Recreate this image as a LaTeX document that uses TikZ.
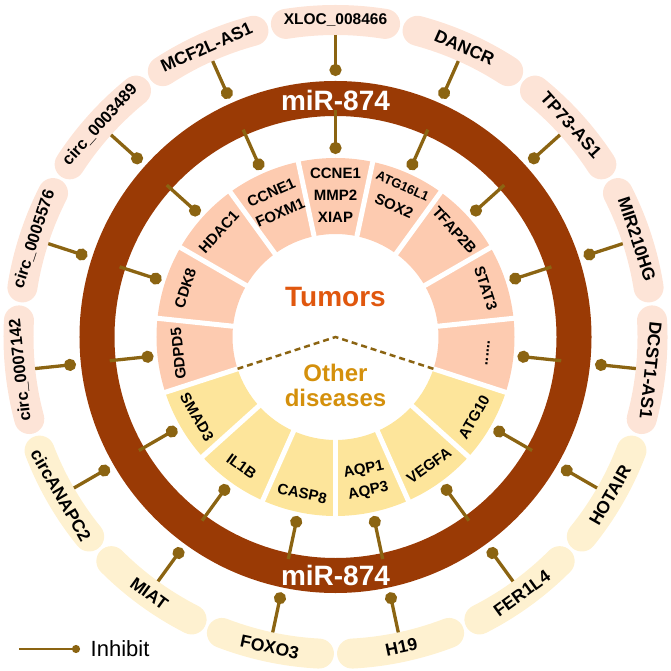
\documentclass[tikz,border=0pt]{standalone}
\usepackage{fontspec}
\setmainfont{Liberation Sans}
\usetikzlibrary{arrows.meta}
\definecolor{ringc}{RGB}{154,58,5}
\definecolor{pinc}{RGB}{139,100,18}
\definecolor{segT}{RGB}{253,203,176}
\definecolor{segO}{RGB}{253,229,155}
\definecolor{pillT}{RGB}{253,228,215}
\definecolor{pillO}{RGB}{254,241,208}
\definecolor{tumc}{RGB}{224,87,14}
\definecolor{othc}{RGB}{212,144,12}
\tikzset{
  inhib/.style={draw=pinc, line width=3.3pt, -{Circle[length=12pt,width=12pt]}},
  seglab/.style={font=\bfseries\fontsize{15}{22}\selectfont, align=center, inner sep=0pt},
  pilllab/.style={font=\bfseries\fontsize{17.5}{20}\selectfont, inner sep=0pt},
  circlab/.style={font=\bfseries\fontsize{16.5}{20}\selectfont, inner sep=0pt},
  pillbandT/.style={draw=pillT, line width=30pt, line cap=round},
  pillbandO/.style={draw=pillO, line width=30pt, line cap=round},
  mirlab/.style={text=white, font=\bfseries\fontsize{28}{30}\selectfont, inner sep=0pt},
}
\begin{document}
\begin{tikzpicture}[x=1pt,y=1pt]
\useasboundingbox (-335.5,-334) rectangle (335.5,337);
% outer pills
\foreach \a in {-6,18,...,186}
  \draw[pillbandT] ({\a-9}:317) arc[start angle=\a-9, end angle=\a+9, radius=317pt];
\foreach \a in {210,234,...,330}
  \draw[pillbandO] ({\a-9}:317) arc[start angle=\a-9, end angle=\a+9, radius=317pt];
% outer inhibition pins
\foreach \a [count=\i] in {-6,18,...,330} {
  \coordinate (os\i) at (\a:302);
  \coordinate (oe\i) at (\a:261);
  \draw[inhib] (os\i) -- (oe\i);
}
% miRNA ring
\draw[ringc, line width=35pt] (0,0) circle[radius=238.5pt];
\node[mirlab] (mirtop) at (0,237) {miR-874};
\node[mirlab] (mirbot) at (0,-238) {miR-874};
% target segments
\foreach \a in {-6,18,...,186}
  \fill[segT] ({\a-12}:103) arc[start angle=\a-12, end angle=\a+12, radius=103pt]
     -- ({\a+12}:179) arc[start angle=\a+12, end angle=\a-12, radius=179pt] -- cycle;
\foreach \a in {210,234,...,330}
  \fill[segO] ({\a-12}:103) arc[start angle=\a-12, end angle=\a+12, radius=103pt]
     -- ({\a+12}:179) arc[start angle=\a+12, end angle=\a-12, radius=179pt] -- cycle;
\foreach \a in {-18,6,...,318}
  \draw[white, line width=5pt] (\a:98) -- (\a:184);
% inner inhibition pins
\foreach \a [count=\i] in {-6,18,...,330} {
  \coordinate (is\i) at (\a:227);
  \coordinate (ie\i) at (\a:183);
  \draw[inhib] (is\i) -- (ie\i);
}
% dashed divider
\coordinate (dl) at (198:103);
\coordinate (dc) at (0,0);
\coordinate (dr) at (-18:103);
\draw[pinc, line width=2.5pt, dash pattern=on 6pt off 4pt] (dl) -- (dc) -- (dr);
% centre labels
\node[text=tumc, font=\bfseries\fontsize{28}{30}\selectfont, inner sep=0pt] (tum) at (0,40) {Tumors};
\node[text=othc, font=\bfseries\fontsize{24}{25}\selectfont, align=center, inner sep=0pt] (oth) at (0,-48.5) {Other\\diseases};
% segment labels
\node[seglab, rotate=-96] (s1) at (-6:153) {......};
\node[seglab, rotate=-72] (s2) at (18:158) {STAT3};
\node[seglab, rotate=-48] (s3) at (42:160) {TFAP2B};
\node[seglab, rotate=-24] (s4) at (66:154) {{\fontsize{13}{15}\selectfont ATG16L1}\\SOX2};
\node[seglab] (s5) at (90:142) {CCNE1\\MMP2\\XIAP};
\node[seglab, rotate=24] (s6) at (114:147) {CCNE1\\FOXM1};
\node[seglab, rotate=48] (s7) at (138:157) {HDAC1};
\node[seglab, rotate=72] (s8) at (162:158) {CDK8};
\node[seglab, rotate=96] (s9) at (186:158) {GDPD5};
\node[seglab, rotate=-60] (s10) at (210:160) {SMAD3};
\node[seglab, rotate=-36] (s11) at (234:160) {IL1B};
\node[seglab, rotate=-12] (s12) at (258:160) {CASP8};
\node[seglab, rotate=12] (s13) at (282:147) {AQP1\\AQP3};
\node[seglab, rotate=36] (s14) at (306:159) {VEGFA};
\node[seglab, rotate=60] (s15) at (330:160) {ATG10};
% pill labels
\node[pilllab, font=\bfseries\fontsize{15.5}{18}\selectfont] (p1) at (90:317) {XLOC\_008466};
\node[pilllab, rotate=-24] (p2) at (66:317) {DANCR};
\node[pilllab, rotate=-48] (p3) at (42:317) {TP73-AS1};
\node[pilllab, rotate=-72] (p4) at (18:317) {MIR210HG};
\node[pilllab, rotate=-96] (p5) at (-6:317) {DCST1-AS1};
\node[pilllab, rotate=24] (p6) at (114:317) {MCF2L-AS1};
\node[circlab, rotate=48] (p7) at (138:317) {circ\_0003489};
\node[circlab, rotate=72] (p8) at (162:317) {circ\_0005576};
\node[circlab, rotate=96] (p9) at (186:317) {circ\_0007142};
\node[pilllab, rotate=-60] (p10) at (210:317) {circANAPC2};
\node[pilllab, rotate=-36] (p11) at (234:317) {MIAT};
\node[pilllab, rotate=-12] (p12) at (258:317) {FOXO3};
\node[pilllab, rotate=12] (p13) at (282:317) {H19};
\node[pilllab, rotate=36] (p14) at (306:317) {FER1L4};
\node[pilllab, rotate=60] (p15) at (330:317) {HOTAIR};
% legend
\coordinate (la) at (-316.5,-312);
\coordinate (lb) at (-255.5,-312);
\draw[pinc, line width=2.2pt, -{Circle[length=8pt,width=8pt]}] (la) -- (lb);
\node[anchor=west, inner sep=0pt, font=\fontsize{22}{24}\selectfont] (leg) at (-245,-312) {Inhibit};
\end{tikzpicture}
\end{document}
